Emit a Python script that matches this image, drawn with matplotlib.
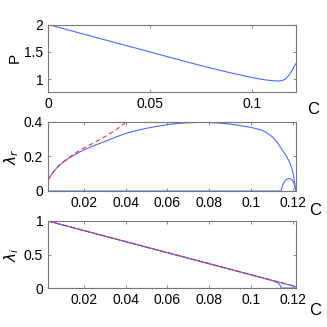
import matplotlib
matplotlib.use("Agg")
import matplotlib.pyplot as plt

plt.rcParams["font.family"] = ["Liberation Sans", "DejaVu Sans"]
plt.rcParams["mathtext.fontset"] = "dejavusans"

# ---- data ----
# top panel: P vs C
c_p = [0, 0.01, 0.02, 0.03, 0.04, 0.05, 0.06, 0.07, 0.08, 0.09, 0.1, 0.1025,
       0.105, 0.1075, 0.11, 0.112, 0.1137, 0.115, 0.1162, 0.1175, 0.1186,
       0.1196, 0.1206, 0.1216]
p_vals = [2.0, 1.9, 1.8, 1.7, 1.6, 1.5, 1.40, 1.30, 1.205, 1.115, 1.035, 1.017,
          1.0, 0.987, 0.977, 0.971, 0.972, 0.982, 1.0, 1.045, 1.10,
          1.16, 1.23, 1.29]

# middle panel: real part, branch 1 (blue)
c_r1 = [0.0028, 0.005, 0.0075, 0.01, 0.0125, 0.015, 0.0175, 0.02, 0.025, 0.03,
        0.035, 0.04, 0.045, 0.05, 0.055, 0.06, 0.065, 0.07, 0.0755, 0.08,
        0.085, 0.09, 0.095, 0.1, 0.105, 0.1075, 0.11, 0.1115, 0.113, 0.1145,
        0.1155, 0.117, 0.1184, 0.1195, 0.1205, 0.1215]
lr1 = [0.063, 0.105, 0.14, 0.165, 0.187, 0.205, 0.222, 0.238, 0.263, 0.285,
       0.31, 0.332, 0.348, 0.362, 0.373, 0.383, 0.39, 0.394, 0.396, 0.395,
       0.392, 0.386, 0.378, 0.367, 0.352, 0.337, 0.315, 0.297, 0.275, 0.247,
       0.228, 0.2, 0.17, 0.135, 0.085, 0.0]
# real part, branch 2 (blue): zero, then small hump
c_r2 = [0.0028, 0.1145, 0.1148, 0.1152, 0.116, 0.117, 0.118, 0.119, 0.12,
        0.1208, 0.1215]
lr2 = [0.0, 0.0, 0.018, 0.033, 0.052, 0.067, 0.073, 0.07, 0.06, 0.04, 0.0]
# real part, approximation (red dashed)
c_ra = [0.0028, 0.005, 0.0075, 0.01, 0.015, 0.02, 0.025, 0.03, 0.035, 0.0402]
lra = [0.063, 0.105, 0.14, 0.168, 0.212, 0.248, 0.28, 0.313, 0.35, 0.397]

# bottom panel: imaginary part
c_i1 = [0.0028, 0.02, 0.04, 0.06, 0.08, 0.1, 0.11, 0.1215]
li1 = [1.0, 0.857, 0.692, 0.527, 0.362, 0.197, 0.115, 0.02]
c_i2 = [0.0028, 0.02, 0.04, 0.06, 0.08, 0.1, 0.106, 0.109, 0.111, 0.1125,
        0.1135, 0.1142, 0.1145, 0.1215]
li2 = [1.0, 0.857, 0.692, 0.527, 0.362, 0.197, 0.148, 0.122, 0.103, 0.083,
       0.058, 0.03, 0.0, 0.0]
c_ia = [0.0028, 0.02, 0.04, 0.06, 0.08, 0.1, 0.11, 0.1215]
lia = [1.0, 0.858, 0.693, 0.528, 0.363, 0.198, 0.116, 0.022]

top_xticks = [0, 0.05, 0.1]
top_xlabels = ["0", "0.05", "0.1"]
top_yticks = [1, 1.5, 2]
top_ylabels = ["1", "1.5", "2"]
low_xticks = [0.02, 0.04, 0.06, 0.08, 0.1, 0.12]
low_xlabels = ["0.02", "0.04", "0.06", "0.08", "0.1", "0.12"]
mid_yticks = [0, 0.2, 0.4]
mid_ylabels = ["0", "0.2", "0.4"]
bot_yticks = [0, 0.5, 1]
bot_ylabels = ["0", "0.5", "1"]

blue = "#4a6cff"
red = "#ff2a2a"
frame = "#777777"

fig = plt.figure(figsize=(3.27, 3.27), dpi=100)
W = H = 327.0


def make_axes(top, bottom):
    return fig.add_axes([48 / W, 1 - bottom / H, 248 / W, (bottom - top) / H])


def style(ax):
    for s in ax.spines.values():
        s.set_color(frame)
        s.set_linewidth(0.8)
    ax.tick_params(direction="in", length=2.2, width=0.6, color=frame,
                   top=True, right=True, labelsize=10, pad=3.5)


ax1 = make_axes(24.5, 92.3)
ax1.plot(c_p, p_vals, color=blue, lw=0.8)
ax1.set_xlim(0, 0.1216)
ax1.set_ylim(0.765, 2)
ax1.set_xticks(top_xticks, top_xlabels)
ax1.set_yticks(top_yticks, top_ylabels)
style(ax1)
ax1.set_ylabel("P", fontsize=11)
ax1.yaxis.set_label_coords(-0.105, 0.5)
ax1.set_xlabel("C", fontsize=12, va="center")
ax1.xaxis.set_label_coords(1.07, -0.26)

ax2 = make_axes(121.7, 191)
ax2.plot(c_r1, lr1, color=blue, lw=0.8)
ax2.plot(c_r2, lr2, color=blue, lw=0.8)
ax2.plot(c_ra, lra, color=red, lw=0.8, ls=(0, (4, 3)))
ax2.set_xlim(0.0028, 0.1216)
ax2.set_ylim(0, 0.4)
ax2.set_xticks(low_xticks, low_xlabels)
ax2.set_yticks(mid_yticks, mid_ylabels)
style(ax2)
ax2.set_ylabel(r"$\lambda_r$", fontsize=11)
ax2.yaxis.set_label_coords(-0.11, 0.5)
ax2.set_xlabel("C", fontsize=12, va="center")
ax2.xaxis.set_label_coords(1.077, -0.275)

ax3 = make_axes(221, 288)
ax3.plot(c_i1, li1, color=blue, lw=0.8)
ax3.plot(c_i2, li2, color=blue, lw=0.8)
ax3.plot(c_ia, lia, color=red, lw=0.8, ls=(0, (4, 3)))
ax3.set_xlim(0.0028, 0.1216)
ax3.set_ylim(0, 1)
ax3.set_xticks(low_xticks, low_xlabels)
ax3.set_yticks(bot_yticks, bot_ylabels)
style(ax3)
ax3.set_ylabel(r"$\lambda_i$", fontsize=11)
ax3.yaxis.set_label_coords(-0.11, 0.5)
ax3.set_xlabel("C", fontsize=12, va="center")
ax3.xaxis.set_label_coords(1.077, -0.33)

fig.savefig("out.png", dpi=100, facecolor="white")
